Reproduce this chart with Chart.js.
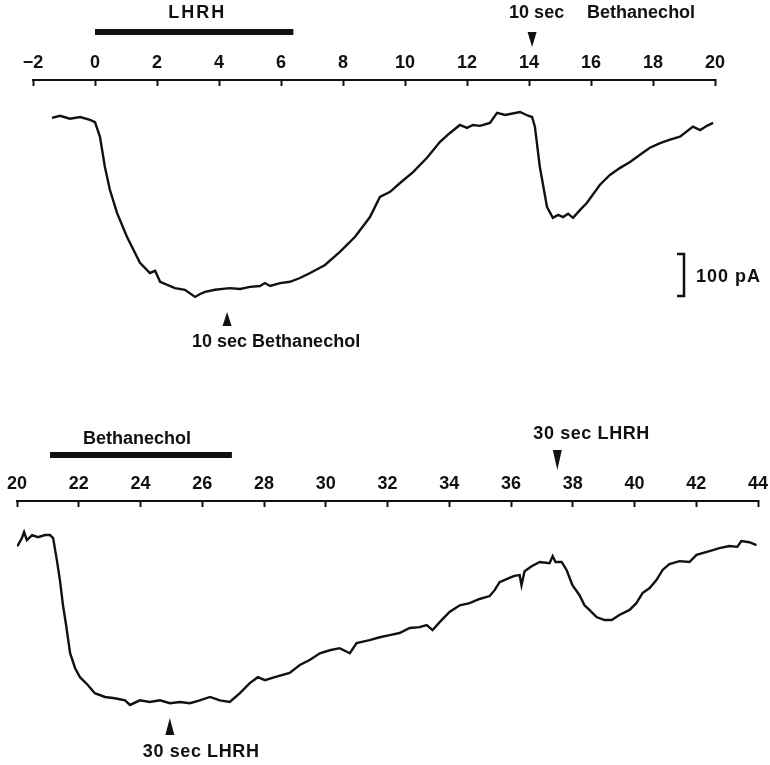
<!DOCTYPE html>
<html>
<head>
<meta charset="utf-8">
<script src="https://cdn.jsdelivr.net/npm/chart.js@4.4.0/dist/chart.umd.min.js"></script>
<style>
  html, body { margin: 0; background: #fff; }
  #wrap { position: relative; width: 770px; height: 765px; }
  canvas { position: absolute; left: 0; }
  #top { top: 0; }
  #bottom { top: 400px; }
</style>
</head>
<body>
<div id="wrap">
  <canvas id="top" width="770" height="370"></canvas>
  <canvas id="bottom" width="770" height="365"></canvas>
</div>
<script>
// membrane current traces (pA, relative to resting level) vs time (min)
const topTime = [-1.39, -1.13, -0.81, -0.48, -0.16, 0.0, 0.16, 0.32, 0.48, 0.71, 1.03, 1.45, 1.61, 1.77, 1.94,
  2.10, 2.58, 2.90, 3.23, 3.39, 3.55, 3.87, 4.35, 4.68, 5.0, 5.32, 5.48, 5.65, 5.97, 6.29, 6.61, 6.94, 7.42,
  7.90, 8.39, 8.87, 9.19, 9.52, 9.84, 10.26, 10.71, 11.13, 11.45, 11.77, 12.0, 12.19, 12.42, 12.74, 12.97,
  13.23, 13.71, 13.97, 14.10, 14.19, 14.35, 14.58, 14.77, 14.94, 15.10, 15.26, 15.42, 15.65, 15.87, 16.29,
  16.61, 16.94, 17.26, 17.58, 17.90, 18.23, 18.55, 18.87, 19.29, 19.52, 19.74, 19.94];
const topCurrent = [0, 5, -2, 2, -5, -10, -45, -117, -171, -226, -283, -345, -357, -369, -364,
  -390, -405, -409, -426, -419, -414, -409, -405, -407, -402, -400, -393, -400, -393, -390, -381, -369, -350,
  -319, -283, -236, -188, -176, -155, -129, -95, -57, -36, -17, -24, -17, -19, -12, 12,
  7, 14, 5, 2, -21, -117, -212, -238, -231, -236, -228, -238, -219, -202, -159,
  -136, -119, -105, -88, -71, -60, -52, -45, -21, -29, -19, -12];

const bottomTime = [19.94, 20.03, 20.16, 20.23, 20.32, 20.49, 20.68, 20.91, 21.07, 21.17, 21.29, 21.39, 21.49,
  21.59, 21.72, 21.88, 22.04, 22.30, 22.52, 22.85, 23.17, 23.50, 23.66, 23.98, 24.30, 24.63, 24.95, 25.28,
  25.60, 25.92, 26.25, 26.57, 26.89, 27.22, 27.54, 27.80, 28.03, 28.35, 28.83, 29.16, 29.48, 29.81, 30.13,
  30.45, 30.78, 31.0, 31.42, 31.75, 32.07, 32.39, 32.72, 33.04, 33.27, 33.46, 33.69, 34.01, 34.34, 34.66,
  34.98, 35.31, 35.47, 35.63, 35.95, 36.11, 36.28, 36.34, 36.44, 36.67, 36.93, 37.25, 37.35, 37.44, 37.64,
  37.80, 37.99, 38.22, 38.38, 38.54, 38.77, 39.03, 39.26, 39.51, 39.84, 40.06, 40.26, 40.49, 40.71, 40.91,
  41.13, 41.46, 41.78, 42.01, 42.43, 42.75, 43.07, 43.33, 43.46, 43.72, 43.95];
const bottomCurrent = [-21, -17, 0, 14, -5, 7, 2, 7, 7, 0, -52, -100, -160,
  -207, -274, -309, -331, -350, -369, -378, -381, -386, -397, -386, -390, -386, -393, -390,
  -393, -386, -378, -386, -390, -369, -345, -331, -338, -331, -321, -302, -290, -274, -267,
  -262, -274, -250, -243, -236, -231, -226, -214, -212, -207, -219, -200, -176, -160, -155,
  -145, -138, -124, -105, -95, -90, -88, -112, -79, -67, -57, -60, -43, -57, -57,
  -76, -112, -136, -160, -171, -188, -195, -195, -183, -171, -155, -131, -119, -100, -76,
  -62, -55, -57, -40, -31, -24, -19, -21, -7, -10, -17];

// stimulus bars and pulse markers
const topBar = { label: 'LHRH', from: 0, to: 6.4 };
const bottomBar = { label: 'Bethanechol', from: 21.07, to: 26.96 };
const topPulses = [
  { t: 14.1, where: 'above', text: '10 sec', note: 'Bethanechol' },
  { t: 4.26, where: 'below', level: -462, text: '10 sec Bethanechol' },
];
const bottomPulses = [
  { t: 37.5, where: 'above', text: '30 sec LHRH' },
  { t: 24.95, where: 'below', level: -428, text: '30 sec LHRH' },
];
const calibration = { t: 19, from: -324, size: 100, label: '100 pA' };

const INK = '#111';
const FONT = '"Liberation Sans", Arial, Helvetica, sans-serif';

const traceNotes = {
  id: 'traceNotes',
  afterDraw(chart, args, o) {
    const { ctx, chartArea } = chart;
    const x = chart.scales.x, y = chart.scales.y;
    const axisY = chartArea.top;
    ctx.save();
    ctx.fillStyle = INK;
    ctx.strokeStyle = INK;
    ctx.textBaseline = 'middle';
    ctx.font = `bold 18px ${FONT}`;

    if (o.bar) {
      const x0 = x.getPixelForValue(o.bar.from);
      const x1 = x.getPixelForValue(o.bar.to);
      ctx.fillRect(x0, axisY - o.barGap - 3, x1 - x0, 6);
      ctx.textAlign = 'center';
      ctx.letterSpacing = o.barSpacing || '0px';
      ctx.fillText(o.bar.label, (x0 + x1) / 2 + o.barLabelDx, axisY - o.barLabelGap);
      ctx.letterSpacing = '0px';
    }

    (o.pulses || []).forEach(p => {
      const px = x.getPixelForValue(p.t);
      const st = o[p.where];
      let tip, base, ty;
      if (p.where === 'above') {
        tip = axisY - st.gap;
        base = tip - st.len;
        ty = axisY - st.textGap;
      } else {
        tip = y.getPixelForValue(p.level);
        base = tip + st.len;
        ty = tip + st.textGap;
      }
      ctx.beginPath();
      ctx.moveTo(px, tip);
      ctx.lineTo(px - 4.5, base);
      ctx.lineTo(px + 4.5, base);
      ctx.closePath();
      ctx.fill();
      ctx.textAlign = 'left';
      ctx.letterSpacing = o.textSpacing || '0px';
      ctx.fillText(p.text, px + st.dx, ty);
      if (p.note) ctx.fillText(p.note, px + st.noteDx, ty);
      ctx.letterSpacing = '0px';
    });

    if (o.calib) {
      const c = o.calib;
      const cx = x.getPixelForValue(c.t);
      const y0 = y.getPixelForValue(c.from);
      const y1 = y.getPixelForValue(c.from - c.size);
      ctx.lineWidth = 2.5;
      ctx.beginPath();
      ctx.moveTo(cx - 7, y0);
      ctx.lineTo(cx, y0);
      ctx.lineTo(cx, y1);
      ctx.lineTo(cx - 7, y1);
      ctx.stroke();
      ctx.textAlign = 'left';
      ctx.letterSpacing = '1px';
      ctx.fillText(c.label, cx + 12, (y0 + y1) / 2 + 2);
    }
    ctx.restore();
  }
};

function traceChart(id, times, current, xr, yr, pad, axisH, notes) {
  return new Chart(document.getElementById(id), {
    type: 'line',
    data: {
      datasets: [{
        data: times.map((t, i) => ({ x: t, y: current[i] })),
        borderColor: INK,
        borderWidth: 2.4,
        pointRadius: 0,
        tension: 0,
        fill: false,
      }],
    },
    options: {
      responsive: false,
      animation: false,
      devicePixelRatio: 1,
      layout: { padding: pad },
      plugins: { legend: { display: false }, tooltip: { enabled: false }, traceNotes: notes },
      scales: {
        x: {
          type: 'linear',
          position: 'top',
          min: xr[0],
          max: xr[1],
          // fixed axis band; edge labels may hang into the layout padding
          afterFit: s => { s.height = axisH; s.paddingLeft = 0; s.paddingRight = 0; },
          border: { display: true, color: INK, width: 2 },
          grid: { drawOnChartArea: false, drawTicks: true, tickLength: -6, tickWidth: 2, tickColor: INK, color: INK },
          ticks: {
            stepSize: 2,
            autoSkip: false,
            maxRotation: 0,
            padding: 12,
            color: INK,
            font: { family: FONT, size: 18, weight: 'bold' },
            callback: v => (v < 0 ? '\u2212' + (-v) : String(v)),
          },
        },
        y: { display: false, min: yr[0], max: yr[1] },
      },
    },
    plugins: [traceNotes],
  });
}

traceChart('top', topTime, topCurrent, [-2, 20], [-576, 90],
  { left: 33, right: 55, top: 0, bottom: 10 }, 80,
  {
    bar: topBar, barGap: 48, barLabelGap: 67, barLabelDx: 3, barSpacing: '2px',
    pulses: topPulses,
    above: { gap: 33, len: 15, textGap: 67, dx: -23, noteDx: 55 },
    below: { len: 14, textGap: 30, dx: -35 },
    calib: calibration,
  });

traceChart('bottom', bottomTime, bottomCurrent, [20, 44], [-516, 88],
  { left: 17, right: 12, top: 0, bottom: 10 }, 101,
  {
    bar: bottomBar, barGap: 46, barLabelGap: 62, barLabelDx: -4,
    pulses: bottomPulses, textSpacing: '0.6px',
    above: { gap: 31, len: 20, textGap: 67, dx: -24 },
    below: { len: 17, textGap: 34, dx: -27 },
  });
</script>
</body>
</html>
